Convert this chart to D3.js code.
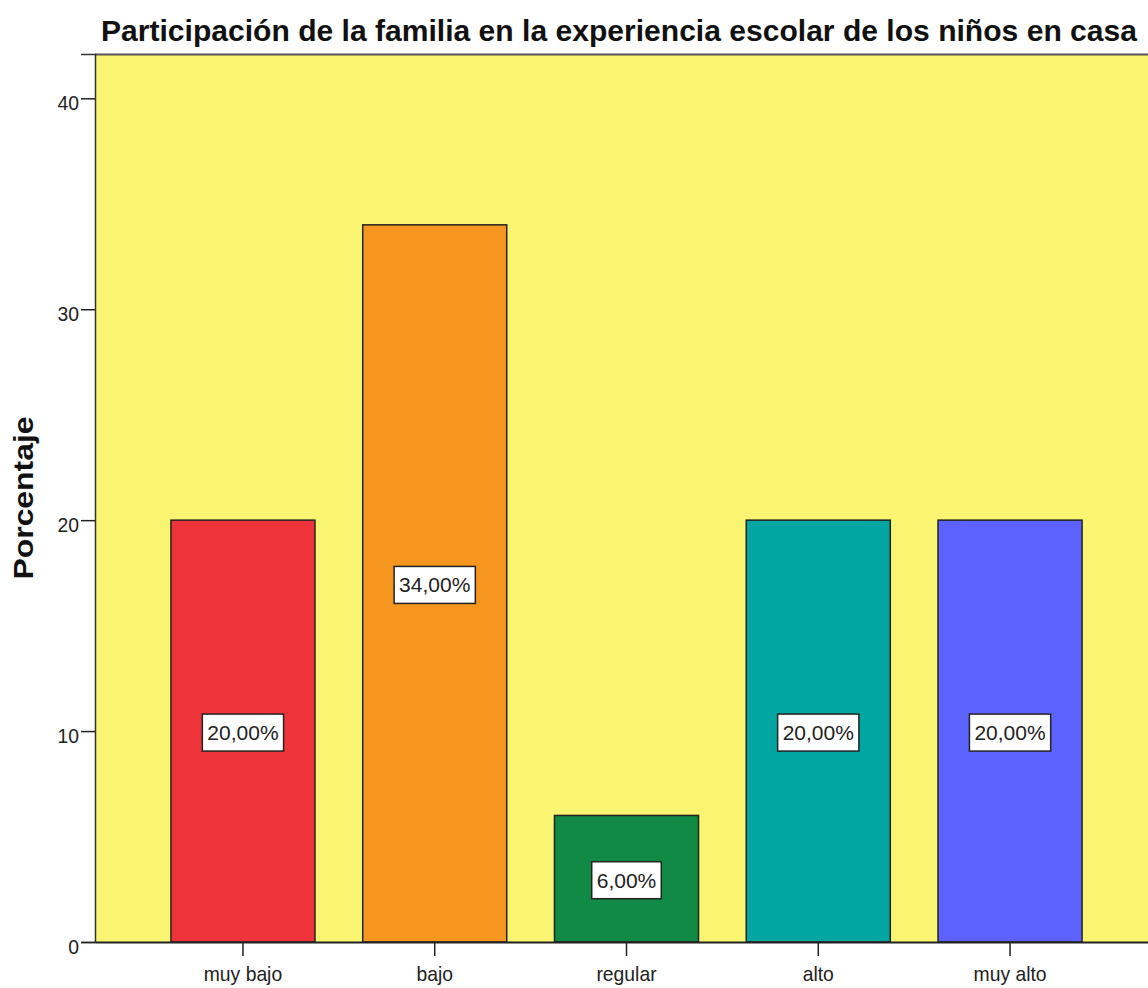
<!DOCTYPE html>
<html>
<head>
<meta charset="utf-8">
<script src="https://cdn.jsdelivr.net/npm/d3@7"></script>
<style>
  body { margin: 0; background: #fff; }
  svg { display: block; }
</style>
</head>
<body>
<script>
// datos del grafico
var categorias = ["muy bajo", "bajo", "regular", "alto", "muy alto"];
var porcentajes = [20, 34, 6, 20, 20];
var colores = ["#ef333a", "#f7961e", "#118a45", "#00a6a2", "#5b62ff"];
var ticksY = [0, 10, 20, 30, 40];
var titulo = "Participación de la familia en la experiencia escolar de los niños en casa";

var W = 1148, H = 988;
// margenes del area de trazado (no usar "top": es window.top)
var pLeft = 95, pTop = 54, pRight = 1158, pBottom = 942;
var fuente = "Liberation Sans, Arial, sans-serif";

var svg = d3.select("body").append("svg")
    .attr("width", W)
    .attr("height", H);

// el texto del original es mas alto que ancho: se comprime en horizontal
function estrechar(sel, factor) {
    sel.each(function() {
        var len = this.getComputedTextLength();
        d3.select(this)
            .attr("textLength", len * factor)
            .attr("lengthAdjust", "spacingAndGlyphs");
    });
}

var x = d3.scaleBand()
    .domain(categorias)
    .range([pLeft, pRight])
    .paddingInner(0.249)
    .paddingOuter(0.396);

var y = d3.scaleLinear()
    .domain([0, 42.1])
    .range([pBottom, pTop]);

// fondo amarillo
svg.append("rect")
    .attr("x", pLeft).attr("y", pTop)
    .attr("width", pRight - pLeft).attr("height", pBottom - pTop)
    .attr("fill", "#f9f570");

// borde superior
svg.append("line")
    .attr("x1", pLeft).attr("x2", W).attr("y1", pTop + 0.5).attr("y2", pTop + 0.5)
    .attr("stroke", "#555").attr("stroke-width", 2);

// barras
var g = svg.append("g");
categorias.forEach(function(c, i) {
    g.append("rect")
        .attr("x", x(c))
        .attr("y", y(porcentajes[i]))
        .attr("width", x.bandwidth())
        .attr("height", y(0) - y(porcentajes[i]))
        .attr("fill", colores[i])
        .attr("stroke", "#222")
        .attr("stroke-width", 1.5);
});

// etiquetas
categorias.forEach(function(c, i) {
    var cx = x(c) + x.bandwidth() / 2;
    var cy = y(porcentajes[i] / 2);
    var txt = porcentajes[i].toFixed(2).replace(".", ",") + "%";
    var t = g.append("text")
        .text(txt)
        .attr("x", cx)
        .attr("y", cy + 9)
        .attr("text-anchor", "middle")
        .style("font-family", fuente)
        .style("font-size", "21px")
        .attr("fill", "#222");
    var bw = t.node().getComputedTextLength();
    g.insert("rect", function() { return t.node(); })
        .attr("x", cx - bw / 2 - 5)
        .attr("y", cy - 17)
        .attr("width", bw + 10)
        .attr("height", 37)
        .attr("fill", "#fff")
        .attr("stroke", "#222")
        .attr("stroke-width", 1.5);
});

// eje y
var ejeY = svg.append("g")
    .attr("transform", "translate(" + pLeft + ",0)")
    .call(d3.axisLeft(y).tickValues(ticksY).tickSize(14).tickPadding(2));
ejeY.select(".domain").attr("stroke", "#333").attr("stroke-width", 1.5);
ejeY.selectAll(".tick line").attr("stroke", "#222").attr("stroke-width", 1.5);
ejeY.selectAll("text")
    .attr("dy", "0.55em")
    .style("font-family", fuente)
    .style("font-size", "21px")
    .attr("fill", "#222");
estrechar(ejeY.selectAll("text"), 0.92);

// eje x
var ejeX = svg.append("g")
    .attr("transform", "translate(0," + pBottom + ")")
    .call(d3.axisBottom(x).tickSize(14).tickSizeOuter(0).tickPadding(10));
ejeX.select(".domain").attr("stroke", "#222").attr("stroke-width", 2);
ejeX.selectAll(".tick line").attr("stroke", "#222").attr("stroke-width", 1.5);
ejeX.selectAll("text")
    .style("font-family", fuente)
    .style("font-size", "21px")
    .attr("fill", "#222");
estrechar(ejeX.selectAll("text"), 0.92);

// titulo
svg.append("text")
    .text(titulo)
    .attr("x", 101)
    .attr("y", 41)
    .attr("textLength", 1036)
    .attr("lengthAdjust", "spacingAndGlyphs")
    .style("font-family", fuente)
    .style("font-weight", "bold")
    .style("font-size", "30px")
    .attr("fill", "#111");

// titulo eje y
svg.append("text")
    .text("Porcentaje")
    .attr("transform", "translate(33,498) rotate(-90)")
    .attr("text-anchor", "middle")
    .attr("textLength", 163)
    .attr("lengthAdjust", "spacingAndGlyphs")
    .style("font-family", fuente)
    .style("font-weight", "bold")
    .style("font-size", "27px")
    .attr("fill", "#111");
</script>
</body>
</html>
